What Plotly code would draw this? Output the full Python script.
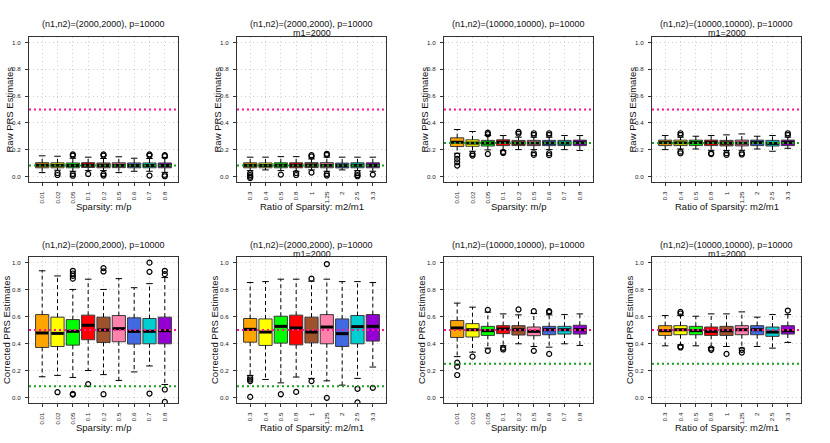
import plotly.graph_objects as go

W, H = 830, 443

SPARSITY = ["0.01", "0.02", "0.05", "0.1", "0.2", "0.5", "0.6", "0.7", "0.8"]
RATIO = ["0.3", "0.4", "0.5", "0.8", "1", "1.25", "2", "2.5", "3.3"]
BOX_COLORS = ["#FFA500", "#FFFF00", "#00FF00", "#FF0000", "#A0522D",
              "#FF82AB", "#4169E1", "#00CED1", "#9400D3"]
Y_TICKS = [0.0, 0.2, 0.4, 0.6, 0.8, 1.0]
TARGET_H2 = 0.5
TRUTH_RAW_2000 = 0.0833
TRUTH_RAW_10000 = 0.25

# Panel 1: raw, (2000,2000), sparsity m/p
P1_Q1 = [0.066, 0.066, 0.066, 0.068, 0.066, 0.067, 0.066, 0.066, 0.066]
P1_MED = [0.085, 0.084, 0.083, 0.085, 0.083, 0.084, 0.083, 0.083, 0.083]
P1_Q3 = [0.104, 0.103, 0.102, 0.104, 0.102, 0.103, 0.102, 0.102, 0.102]
P1_LO = [0.030, 0.048, 0.040, 0.045, 0.045, 0.030, 0.040, 0.040, 0.032]
P1_HI = [0.155, 0.152, 0.137, 0.145, 0.135, 0.148, 0.137, 0.135, 0.140]
P1_OUT = [[], [0.027, 0.012], [0.166, 0.157, 0.020, 0.007], [0.020],
          [0.166, 0.157, 0.020, 0.008], [], [], [0.166, 0.157, 0.008],
          [0.160, 0.152, 0.013, 0.003]]

# Panel 2: raw, (2000,2000), ratio m2/m1
P2_Q1 = [0.066, 0.066, 0.066, 0.066, 0.067, 0.066, 0.065, 0.066, 0.066]
P2_MED = [0.084, 0.083, 0.084, 0.084, 0.085, 0.084, 0.082, 0.084, 0.084]
P2_Q3 = [0.103, 0.102, 0.103, 0.103, 0.104, 0.104, 0.101, 0.103, 0.103]
P2_LO = [0.045, 0.050, 0.045, 0.040, 0.050, 0.040, 0.050, 0.045, 0.040]
P2_HI = [0.145, 0.145, 0.149, 0.149, 0.132, 0.145, 0.145, 0.145, 0.145]
P2_OUT = [[0.025, 0.012, 0.0, -0.010], [], [0.015], [0.027, 0.012],
          [0.160, 0.150, 0.030], [0.170, 0.162, 0.020, 0.008], [],
          [0.027, 0.012, 0.003], [0.015]]

# Panel 3: raw, (10000,10000), sparsity m/p
P3_Q1 = [0.224, 0.226, 0.228, 0.231, 0.231, 0.231, 0.231, 0.231, 0.231]
P3_MED = [0.256, 0.250, 0.250, 0.256, 0.250, 0.250, 0.250, 0.250, 0.252]
P3_Q3 = [0.289, 0.274, 0.270, 0.274, 0.270, 0.270, 0.270, 0.270, 0.272]
P3_LO = [0.174, 0.189, 0.199, 0.195, 0.201, 0.201, 0.201, 0.201, 0.195]
P3_HI = [0.351, 0.336, 0.306, 0.306, 0.294, 0.294, 0.294, 0.306, 0.306]
P3_OUT = [[0.157, 0.132, 0.107, 0.082], [0.169, 0.157], [0.328, 0.316, 0.169],
          [0.184, 0.176], [0.333, 0.321], [0.323, 0.311, 0.174, 0.162],
          [0.323, 0.311, 0.174, 0.160], [], []]

# Panel 4: raw, (10000,10000), ratio m2/m1
P4_Q1 = [0.231, 0.231, 0.231, 0.231, 0.229, 0.229, 0.231, 0.228, 0.231]
P4_MED = [0.253, 0.252, 0.253, 0.253, 0.250, 0.250, 0.253, 0.248, 0.253]
P4_Q3 = [0.272, 0.272, 0.272, 0.272, 0.270, 0.272, 0.272, 0.270, 0.272]
P4_LO = [0.201, 0.206, 0.206, 0.196, 0.195, 0.196, 0.206, 0.189, 0.211]
P4_HI = [0.306, 0.294, 0.301, 0.306, 0.311, 0.318, 0.301, 0.306, 0.294]
P4_OUT = [[], [0.323, 0.311, 0.186, 0.174], [], [0.174, 0.169],
          [0.174, 0.162], [0.174, 0.165], [], [], [0.323, 0.311]]

# Panel 5: corrected, (2000,2000), sparsity m/p
P5_Q1 = [0.371, 0.378, 0.388, 0.428, 0.408, 0.413, 0.396, 0.398, 0.398]
P5_MED = [0.478, 0.475, 0.490, 0.535, 0.500, 0.510, 0.490, 0.490, 0.495]
P5_Q3 = [0.614, 0.595, 0.577, 0.610, 0.595, 0.607, 0.590, 0.585, 0.595]
P5_LO = [0.154, 0.164, 0.149, 0.200, 0.170, 0.127, 0.190, 0.234, 0.097]
P5_HI = [0.938, 0.900, 0.800, 0.876, 0.800, 0.880, 0.813, 0.843, 0.888]
P5_OUT = [[], [0.040], [0.938, 0.918, 0.900, 0.880, 0.027, 0.022], [0.100],
          [0.958, 0.933, 0.025], [], [], [0.998, 0.930, 0.030],
          [0.938, 0.913, 0.060, -0.032]]

# Panel 6: corrected, (2000,2000), ratio m2/m1
P6_Q1 = [0.410, 0.386, 0.403, 0.390, 0.405, 0.398, 0.378, 0.398, 0.418]
P6_MED = [0.505, 0.485, 0.527, 0.515, 0.485, 0.522, 0.473, 0.525, 0.527]
P6_Q3 = [0.585, 0.582, 0.602, 0.610, 0.595, 0.614, 0.582, 0.607, 0.614]
P6_LO = [0.164, 0.134, 0.109, 0.152, 0.142, 0.124, 0.092, 0.142, 0.226]
P6_HI = [0.851, 0.858, 0.876, 0.876, 0.861, 0.876, 0.858, 0.858, 0.851]
P6_OUT = [[0.147, 0.134, 0.122, 0.005], [], [0.025], [0.042], [0.880, 0.122],
          [0.988, -0.002], [], [0.065, -0.035], [0.072]]

# Panel 7: corrected, (10000,10000), sparsity m/p
P7_Q1 = [0.445, 0.448, 0.460, 0.473, 0.463, 0.458, 0.465, 0.470, 0.470]
P7_MED = [0.515, 0.502, 0.495, 0.507, 0.502, 0.490, 0.502, 0.502, 0.502]
P7_Q3 = [0.570, 0.547, 0.527, 0.532, 0.532, 0.522, 0.527, 0.527, 0.535]
P7_LO = [0.303, 0.336, 0.366, 0.383, 0.398, 0.378, 0.373, 0.398, 0.386]
P7_HI = [0.699, 0.669, 0.632, 0.619, 0.612, 0.622, 0.612, 0.614, 0.619]
P7_OUT = [[0.259, 0.229, 0.167], [0.303], [0.649, 0.346], [0.368, 0.356],
          [0.652], [0.639, 0.346], [0.639, 0.632, 0.323], [], []]

# Panel 8: corrected, (10000,10000), ratio m2/m1
P8_Q1 = [0.460, 0.465, 0.465, 0.460, 0.460, 0.465, 0.465, 0.453, 0.470]
P8_MED = [0.495, 0.502, 0.495, 0.490, 0.495, 0.502, 0.502, 0.485, 0.495]
P8_Q3 = [0.532, 0.532, 0.527, 0.522, 0.527, 0.532, 0.532, 0.522, 0.532]
P8_LO = [0.383, 0.390, 0.383, 0.371, 0.378, 0.366, 0.378, 0.366, 0.408]
P8_HI = [0.607, 0.607, 0.602, 0.619, 0.619, 0.634, 0.595, 0.614, 0.614]
P8_OUT = [[], [0.634, 0.622, 0.378, 0.371], [], [0.363, 0.353], [0.323],
          [0.353, 0.333], [], [], [0.644]]

TITLE_2000 = "(n1,n2)=(2000,2000), p=10000"
TITLE_10000 = "(n1,n2)=(10000,10000), p=10000"
SUBTITLE = "m1=2000"

PANELS = [
    dict(q1=P1_Q1, med=P1_MED, q3=P1_Q3, lo=P1_LO, hi=P1_HI, out=P1_OUT, cats=SPARSITY,
         title=TITLE_2000, sub=None, ytitle="Raw PRS Estimates", xtitle="Sparsity: m/p",
         truth=TRUTH_RAW_2000),
    dict(q1=P2_Q1, med=P2_MED, q3=P2_Q3, lo=P2_LO, hi=P2_HI, out=P2_OUT, cats=RATIO,
         title=TITLE_2000, sub=SUBTITLE, ytitle="Raw PRS Estimates", xtitle="Ratio of Sparsity: m2/m1",
         truth=TRUTH_RAW_2000),
    dict(q1=P3_Q1, med=P3_MED, q3=P3_Q3, lo=P3_LO, hi=P3_HI, out=P3_OUT, cats=SPARSITY,
         title=TITLE_10000, sub=None, ytitle="Raw PRS Estimates", xtitle="Sparsity: m/p",
         truth=TRUTH_RAW_10000),
    dict(q1=P4_Q1, med=P4_MED, q3=P4_Q3, lo=P4_LO, hi=P4_HI, out=P4_OUT, cats=RATIO,
         title=TITLE_10000, sub=SUBTITLE, ytitle="Raw PRS Estimates", xtitle="Ratio of Sparsity: m2/m1",
         truth=TRUTH_RAW_10000),
    dict(q1=P5_Q1, med=P5_MED, q3=P5_Q3, lo=P5_LO, hi=P5_HI, out=P5_OUT, cats=SPARSITY,
         title=TITLE_2000, sub=None, ytitle="Corrected PRS Estimates", xtitle="Sparsity: m/p",
         truth=TRUTH_RAW_2000),
    dict(q1=P6_Q1, med=P6_MED, q3=P6_Q3, lo=P6_LO, hi=P6_HI, out=P6_OUT, cats=RATIO,
         title=TITLE_2000, sub=SUBTITLE, ytitle="Corrected PRS Estimates", xtitle="Ratio of Sparsity: m2/m1",
         truth=TRUTH_RAW_2000),
    dict(q1=P7_Q1, med=P7_MED, q3=P7_Q3, lo=P7_LO, hi=P7_HI, out=P7_OUT, cats=SPARSITY,
         title=TITLE_10000, sub=None, ytitle="Corrected PRS Estimates", xtitle="Sparsity: m/p",
         truth=TRUTH_RAW_10000),
    dict(q1=P8_Q1, med=P8_MED, q3=P8_Q3, lo=P8_LO, hi=P8_HI, out=P8_OUT, cats=RATIO,
         title=TITLE_10000, sub=SUBTITLE, ytitle="Corrected PRS Estimates", xtitle="Ratio of Sparsity: m2/m1",
         truth=TRUTH_RAW_10000),
]

# layout geometry (pixels)
COL_LEFT = [29, 237, 444, 652]
COL_RIGHT = [178, 386, 593, 801]
ROW_TOP = [37, 257]
ROW_BOTTOM = [182, 403]

FONT = "Liberation Sans, Arial, Helvetica, sans-serif"
BOXW = 0.86
CAPW = BOXW / 2
FRAME = "#333333"
GRID = "#d0d0d0"

fig = go.Figure()
layout = dict(width=W, height=H, margin=dict(l=0, r=0, t=0, b=0),
              paper_bgcolor="white", plot_bgcolor="white", showlegend=False,
              font=dict(family=FONT, color="#222"))
annotations = []
shapes = []

for k, p in enumerate(PANELS):
    r, c = divmod(k, 4)
    ax = "" if k == 0 else str(k + 1)
    xref, yref = "x" + ax, "y" + ax
    n = len(p["cats"])
    pos = list(range(1, n + 1))
    x0p, x1p = COL_LEFT[c] / W, COL_RIGHT[c] / W
    y1p, y0p = 1 - ROW_TOP[r] / H, 1 - ROW_BOTTOM[r] / H

    layout["xaxis" + ax] = dict(
        domain=[x0p, x1p], anchor=yref, range=[0.5 - 0.36, n + 0.5 + 0.36],
        tickmode="array", tickvals=pos, ticktext=p["cats"], tickangle=-90,
        tickfont=dict(size=6.2, family=FONT, color="#222"), ticks="outside", ticklen=3,
        tickcolor=FRAME, showgrid=True, gridcolor=GRID, griddash="1px,3px", gridwidth=1,
        showline=True, mirror=True, linecolor=FRAME, linewidth=1.2, zeroline=False,
        ticklabelstandoff=3)
    layout["yaxis" + ax] = dict(
        domain=[y0p, y1p], anchor=xref, range=[-0.04, 1.04],
        tickmode="array", tickvals=Y_TICKS, ticktext=["%.1f" % v for v in Y_TICKS],
        tickfont=dict(size=6.2, family=FONT, color="#222"), ticks="outside", ticklen=3,
        tickcolor=FRAME, showgrid=True, gridcolor=GRID, griddash="1px,3px", gridwidth=1,
        showline=True, mirror=True, linecolor=FRAME, linewidth=1.2, zeroline=False,
        ticklabelstandoff=3)

    # boxes
    for i in range(n):
        fig.add_trace(go.Box(
            x=[pos[i]], q1=[p["q1"][i]], median=[p["med"][i]], q3=[p["q3"][i]],
            lowerfence=[p["q1"][i]], upperfence=[p["q3"][i]], width=BOXW,
            fillcolor=BOX_COLORS[i], line=dict(color="#3a3a3a", width=1),
            whiskerwidth=0, boxpoints=False, hoverinfo="skip",
            xaxis=xref, yaxis=yref))

    # whiskers (dashed)
    wx, wy = [], []
    for i in range(n):
        wx += [pos[i], pos[i], None, pos[i], pos[i], None]
        wy += [p["q3"][i], p["hi"][i], None, p["q1"][i], p["lo"][i], None]
    fig.add_trace(go.Scatter(x=wx, y=wy, mode="lines",
                             line=dict(color="black", width=1, dash="4px,3px"),
                             hoverinfo="skip", xaxis=xref, yaxis=yref))
    # caps
    cx, cy = [], []
    for i in range(n):
        for v in (p["hi"][i], p["lo"][i]):
            cx += [pos[i] - CAPW / 2, pos[i] + CAPW / 2, None]
            cy += [v, v, None]
    fig.add_trace(go.Scatter(x=cx, y=cy, mode="lines", line=dict(color="black", width=1),
                             hoverinfo="skip", xaxis=xref, yaxis=yref))
    # medians
    mx, my = [], []
    for i in range(n):
        mx += [pos[i] - BOXW / 2 + 0.03, pos[i] + BOXW / 2 - 0.03, None]
        my += [p["med"][i], p["med"][i], None]
    fig.add_trace(go.Scatter(x=mx, y=my, mode="lines", line=dict(color="black", width=3),
                             hoverinfo="skip", xaxis=xref, yaxis=yref))
    # outliers
    ox, oy = [], []
    for i in range(n):
        for v in p["out"][i]:
            ox.append(pos[i])
            oy.append(v)
    fig.add_trace(go.Scatter(x=ox, y=oy, mode="markers",
                             marker=dict(symbol="circle-open", size=5, color="black",
                                         line=dict(width=1.2, color="black")),
                             hoverinfo="skip", xaxis=xref, yaxis=yref))

    # reference lines
    xdom = xref + " domain"
    shapes.append(dict(type="line", xref=xdom, yref=yref, x0=0, x1=1,
                       y0=TARGET_H2, y1=TARGET_H2, layer="above",
                       line=dict(color="#FF1493", width=2, dash="2px,3px")))
    shapes.append(dict(type="line", xref=xdom, yref=yref, x0=0, x1=1,
                       y0=p["truth"], y1=p["truth"], layer="above",
                       line=dict(color="#1E9E1E", width=2, dash="2px,3px")))

    # titles
    xc = (x0p + x1p) / 2
    t_y = 24.5 if r == 0 else 245
    annotations.append(dict(text=p["title"], x=xc, y=1 - t_y / H, xref="paper", yref="paper",
                            xanchor="center", yanchor="middle", showarrow=False,
                            font=dict(size=9, family=FONT, color="#111")))
    if p["sub"]:
        annotations.append(dict(text=p["sub"], x=xc, y=1 - (t_y + 8.8) / H, xref="paper",
                                yref="paper", xanchor="center", yanchor="middle",
                                showarrow=False, font=dict(size=9, family=FONT, color="#111")))
    # axis titles
    annotations.append(dict(text=p["xtitle"], x=xc, y=1 - (ROW_BOTTOM[r] + 24.5) / H,
                            xref="paper", yref="paper", xanchor="center", yanchor="middle",
                            showarrow=False, font=dict(size=9.5, family=FONT, color="#111")))
    yoff = 20 if r == 0 else 23
    annotations.append(dict(text=p["ytitle"], x=(COL_LEFT[c] - yoff) / W, y=(y0p + y1p) / 2,
                            xref="paper", yref="paper", xanchor="center", yanchor="middle",
                            textangle=-90, showarrow=False,
                            font=dict(size=9.5, family=FONT, color="#111")))

layout["annotations"] = annotations
layout["shapes"] = shapes
fig.update_layout(**layout)
fig.write_html("out.html", config={"displayModeBar": False},
               post_script="document.body.style.margin='0';document.body.style.padding='0';")
